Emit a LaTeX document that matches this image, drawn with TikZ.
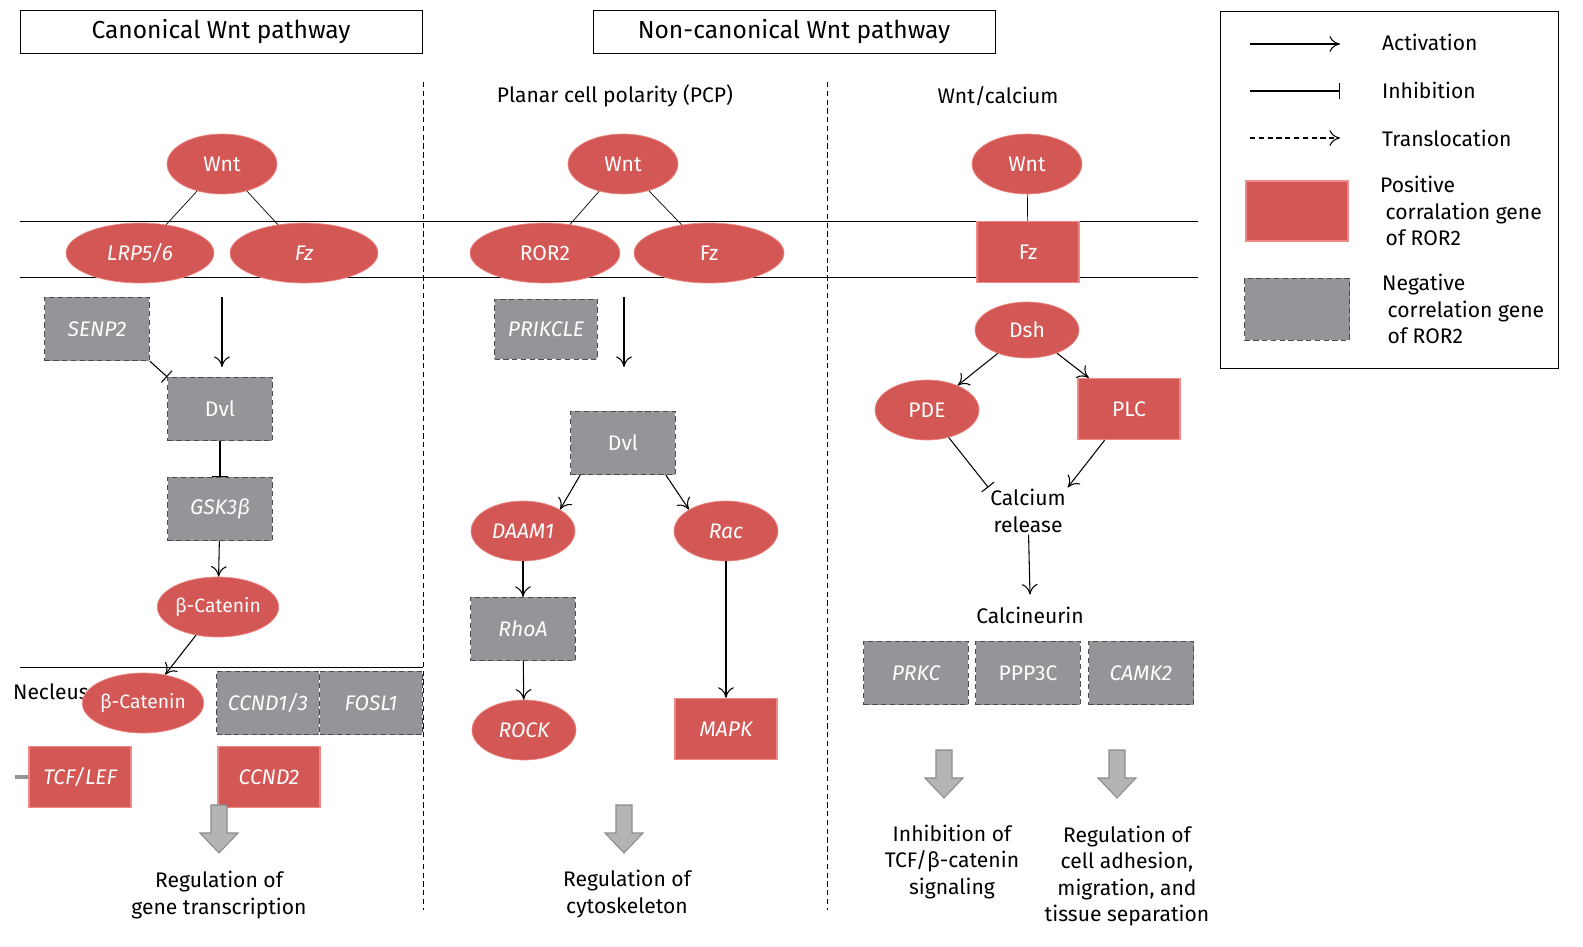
\documentclass[tikz,border=0pt]{standalone}
\usepackage{fontspec}
\setmainfont{Fira Sans}
\usetikzlibrary{shapes.geometric, arrows.meta, positioning}
\definecolor{posred}{HTML}{D35754}
\definecolor{posline}{HTML}{EE8A85}
\definecolor{neggray}{HTML}{939598}
\definecolor{bigarr}{HTML}{B3B4B6}
\tikzset{
  txt/.style={font=\fontsize{12}{15}\selectfont, inner sep=1pt},
  redell/.style={ellipse, fill=posred, draw=posline, text=white, minimum width=2.2cm, minimum height=1.2cm, txt, inner sep=0pt},
  redbox/.style={rectangle, fill=posred, draw=posline, line width=0.8pt, text=white, minimum width=2.04cm, minimum height=1.22cm, txt},
  graybox/.style={rectangle, fill=neggray, draw=black!70, densely dashed, text=white, minimum width=2.1cm, minimum height=1.27cm, txt},
  act/.style={-{To[length=6pt,width=9pt]}, semithick},
  inh/.style={-{Bar[width=9pt]}, semithick},
  trans/.style={densely dashed, -{To[length=6pt,width=9pt]}, semithick},
  title/.style={draw, thin, minimum width=8.04cm, minimum height=0.86cm, font=\fontsize{14}{17}\selectfont},
  bigarrow/.style={fill=bigarr, draw=black!45, line width=0.6pt}
}
\newcommand{\bigdown}[2]{\draw[bigarrow] (#1-8,#2) -- (#1+8,#2) -- (#1+8,#2+28) -- (#1+19,#2+28) -- (#1,#2+48) -- (#1-19,#2+28) -- (#1-8,#2+28) -- cycle;}
\begin{document}
\begin{tikzpicture}[x=0.02cm, y=-0.02cm]
    \useasboundingbox (0,0) rectangle (1583,947);

    % titles and frames
    \node[title] (tcan) at (221,32) {Canonical Wnt pathway};
    \node[title] (tnon) at (794,32) {Non-canonical Wnt pathway};
    \draw[thin] (1220,11) rectangle (1558,368);
    \draw[densely dashed] (423,82) -- (423,910);
    \draw[densely dashed] (827,82) -- (827,910);
    \draw (20,221) -- (1198,221);
    \draw (20,277) -- (1198,277);
    \draw (20,667) -- (423,667);

    % canonical
    \node[redell] (wnta) at (222,164) {Wnt};
    \node[redell, minimum width=2.96cm] (lrp) at (140,253) {\itshape LRP5/6};
    \node[redell, minimum width=2.96cm] (fza) at (304,253) {\itshape Fz};
    \draw (wnta) -- (lrp);
    \draw (wnta) -- (fza);
    \node[graybox] (senp) at (97,329) {\itshape SENP2};
    \node[graybox] (dvla) at (220,409) {Dvl};
    \node[graybox] (gsk) at (220,509) {\itshape GSK3β};
    \node[redell, minimum width=2.08cm, font=\fontsize{11}{13}\selectfont] (bcat) at (218,607) {β-Catenin};
    \node[txt, anchor=west] (nuc) at (11,692) {Necleus};
    \node[redell, minimum width=2.08cm, font=\fontsize{11}{13}\selectfont] (bcatn) at (143,703) {β-Catenin};
    \node[graybox, minimum width=2.06cm] (ccnd) at (268,703) {\itshape CCND1/3};
    \node[graybox, minimum width=2.06cm] (fosl) at (371,703) {\itshape FOSL1};
    \node[redbox] (tcf) at (80,777) {\itshape TCF/LEF};
    \draw[neggray, line width=2.5pt] (15,777) -- (tcf.west);
    \node[redbox] (ccndb) at (269,777) {\itshape CCND2};
    \coordinate (fzadown) at (222,297);
    \coordinate (fzaend) at (222,367);
    \draw[act] (fzadown) -- (fzaend);
    \draw[inh] (senp.south east) -- (dvla.north west);
    \draw[inh] (dvla) -- (gsk);
    \draw[act] (gsk) -- (bcat);
    \draw[act] (bcat) -- (bcatn);
    \bigdown{219}{805}
    \node[txt, align=center] (regg) at (219,895) {Regulation of\\gene transcription};

    % planar cell polarity
    \node[txt] (pcp) at (615,96) {Planar cell polarity (PCP)};
    \node[redell] (wntb) at (623,164) {Wnt};
    \node[redell, minimum width=3cm] (ror) at (545,253) {ROR2};
    \node[redell, minimum width=3cm] (fzb) at (709,253) {Fz};
    \draw (wntb) -- (ror);
    \draw (wntb) -- (fzb);
    \node[graybox, minimum width=2.06cm, minimum height=1.2cm] (prik) at (546,329) {\itshape PRIKCLE};
    \node[graybox] (dvlb) at (623,443) {Dvl};
    \coordinate (fzbdown) at (624,297);
    \coordinate (fzbend) at (624,367);
    \draw[act] (fzbdown) -- (fzbend);
    \node[redell, minimum width=2.08cm] (daam) at (523,531) {\itshape DAAM1};
    \node[redell, minimum width=2.08cm] (rac) at (726,531) {\itshape Rac};
    \node[graybox] (rhoa) at (523,629) {\itshape RhoA};
    \node[redell, minimum width=2.08cm] (rock) at (524,730) {\itshape ROCK};
    \node[redbox] (mapk) at (726,729) {\itshape MAPK};
    \draw[act] ([xshift=0.2cm]dvlb.south west) -- (daam.north east);
    \draw[act] ([xshift=-0.2cm]dvlb.south east) -- (rac.north west);
    \draw[act] (daam) -- (rhoa);
    \draw[act] (rhoa) -- (rock);
    \draw[act] (rac) -- (mapk);
    \bigdown{624}{805}
    \node[txt, align=center] (regc) at (627,894) {Regulation of\\cytoskeleton};

    % wnt/calcium
    \node[txt] (wca) at (998,96) {Wnt/calcium};
    \node[redell] (wntc) at (1027,164) {Wnt};
    \node[redbox] (fzc) at (1028,252) {Fz};
    \draw (wntc) -- (fzc);
    \node[redell, minimum width=2.08cm, minimum height=1.12cm] (dsh) at (1027,330) {Dsh};
    \node[redell, minimum width=2.08cm] (pde) at (927,410) {PDE};
    \node[redbox] (plc) at (1129,409) {PLC};
    \draw[act] (dsh) -- (pde);
    \draw[act] (dsh) -- (plc);
    \node[txt, align=center] (cal) at (1028,511) {Calcium\\release};
    \draw[inh] (pde) -- (cal.north west);
    \draw[act] (plc) -- (cal.north east);
    \node[txt] (cn) at (1030,615) {Calcineurin};
    \draw[act] (cal) -- ([yshift=0.2cm]cn.north);
    \node[graybox] (prkc) at (916,673) {\itshape PRKC};
    \node[graybox] (ppp) at (1028,673) {PPP3C};
    \node[graybox] (camk) at (1141,673) {\itshape CAMK2};
    \bigdown{944}{750}
    \bigdown{1117}{750}
    \node[txt, align=center] (inhib) at (952,862) {Inhibition of\\TCF/β-catenin\\signaling};
    \node[txt, align=center] (regad) at (1127,876) {Regulation of\\cell adhesion,\\migration, and\\tissue separation};

    % legend
    \coordinate (la1) at (1250,44); \coordinate (la2) at (1340,44);
    \coordinate (li1) at (1250,91); \coordinate (li2) at (1340,91);
    \coordinate (lt1) at (1250,138); \coordinate (lt2) at (1340,138);
    \draw[act] (la1) -- (la2);
    \draw[inh] (li1) -- (li2);
    \draw[trans] (lt1) -- (lt2);
    \node[txt, anchor=west] (lact) at (1380,42) {Activation};
    \node[txt, anchor=west] (linh) at (1380,90) {Inhibition};
    \node[txt, anchor=west] (ltr) at (1380,138) {Translocation};
    \node[redbox, minimum height=1.2cm] (lpos) at (1297,211) {};
    \node[graybox, minimum height=1.24cm] (lneg) at (1297,309) {};
    \node[txt, anchor=west, align=left] (tpos) at (1378,211) {Positive\\\ corralation gene\\\ of ROR2};
    \node[txt, anchor=west, align=left] (tneg) at (1380,309) {Negative\\\ correlation gene\\\ of ROR2};
\end{tikzpicture}
\end{document}
